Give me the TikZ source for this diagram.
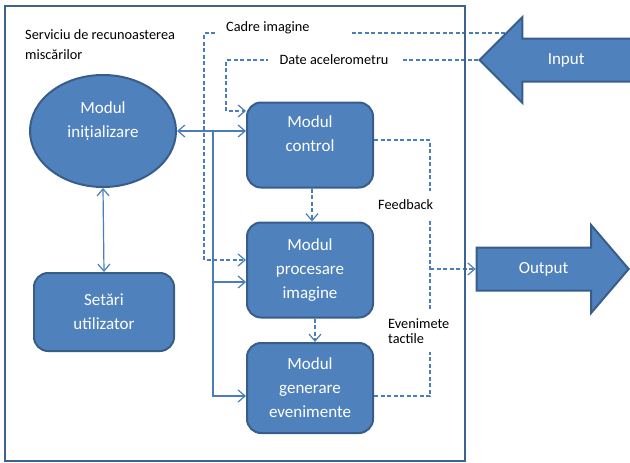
\documentclass[tikz,border=0pt]{standalone}
\usepackage{fontspec}
\setmainfont{Carlito}
\usepackage{tikz}
\usetikzlibrary{shapes,arrows.meta,positioning}
\definecolor{boxblue}{HTML}{4F81BD}
\definecolor{boxedge}{HTML}{385D8A}
\definecolor{linkblue}{HTML}{4A7EBB}
\definecolor{frameblue}{HTML}{3D6391}
\pgfdeclarelayer{background}
\pgfsetlayers{background,main}
\tikzset{
  every node/.style={
    font=\fontsize{14.3}{20}\selectfont
  },
  modul/.style={
    shape=rectangle,
    rounded corners=14pt,
    draw=boxedge,
    line width=2pt,
    fill=boxblue,
    text=white,
    font=\fontsize{17}{24}\selectfont,
    align=center,
    minimum width=126pt,
    minimum height=85pt
  },
  initial/.style={
    shape=ellipse,
    draw=boxedge,
    line width=2pt,
    fill=boxblue,
    text=white,
    font=\fontsize{17}{24}\selectfont,
    align=center,
    inner sep=0pt,
    minimum width=146pt,
    minimum height=112pt
  },
  bigarrow/.style={
    shape=single arrow,
    draw=boxedge,
    line width=2pt,
    fill=boxblue,
    text=white,
    font=\fontsize{17}{24}\selectfont,
    text height=12pt,
    text depth=4pt,
    inner ysep=12.5pt,
    minimum height=152pt
  },
  tag/.style={
    fill=white,
    text=black
  },
  frame/.style={
    draw=frameblue,
    line width=2.5pt
  },
  link/.style={
    draw=linkblue,
    line width=1.2pt
  },
  flow/.style={
    link,
    -{Straight Barb[length=7pt,width=12pt]}
  },
  both flow/.style={
    link,
    {Straight Barb[length=7pt,width=12pt]}-{Straight Barb[length=7pt,width=12pt]}
  },
  dline/.style={
    link,
    dash pattern=on 4pt off 2.5pt
  },
  dflow/.style={
    flow,
    dash pattern=on 4pt off 2.5pt
  }
}

\begin{document}
\begin{tikzpicture}[x=1pt,y=-1pt]
  \useasboundingbox (0,0) rectangle (630,463);
  \draw[frame] (5,6) rectangle (465,461);

  \node[anchor=west, align=left, inner sep=0pt] (title) at (25,45)
    {Serviciu de recunoasterea\\miscărilor};

  % modules
  \node[initial, text depth=22pt] (init) at (103,131) {Modul\\inițializare};
  \node[modul, minimum width=140pt, minimum height=78pt] (set) at (104,312)
    {Setări\\utilizator};
  \node[modul, text depth=22pt] (ctrl) at (310,145) {Modul\\control};
  \node[modul, minimum height=95pt] (proc) at (310,270) {Modul\\procesare\\imagine};
  \node[modul, minimum height=90pt] (gen) at (310,388) {Modul\\generare\\evenimente};

  % input / output
  \node[bigarrow, shape border rotate=180, single arrow head extend=21.5pt,
    single arrow tip angle=90, anchor=tip] (inp) at (478,60) {Input};
  \node[bigarrow, single arrow head extend=22.5pt,
    single arrow tip angle=99, anchor=tip] (out) at (630,269) {Output};

  % labels on the dashed lines
  \node[anchor=west, inner xsep=11pt] (cadre) at (215,28) {Cadre imagine};
  \node[tag, inner xsep=12pt] (date) at (334,60) {Date acelerometru};
  \node[tag, anchor=west, inner xsep=2pt, inner ysep=9pt] (fback) at (376,205)
    {Feedback};
  \node[tag, anchor=west, inner xsep=2pt, inner ysep=9pt, align=left,
    font=\fontsize{14.3}{15}\selectfont] (tactile) at (386,331) {Evenimete\\tactile};

  \coordinate (cadre in) at (505,33);
  \coordinate (cadre gap) at (351,33);
  \coordinate (bus) at (213,131);
  \coordinate (merge) at (430,269);

  \begin{pgfonlayer}{background}
    \draw[both flow] (init.east) -- (init.east -| ctrl.west);
    \draw[both flow] (init.south) -- (set.north);
    \draw[flow] (bus) |- ([yshift=-12pt]proc.west);
    \draw[flow] (bus) |- ([yshift=-8pt]gen.west);

    \draw[dline] (cadre in) -- (cadre gap);
    \draw[dflow] (cadre.west |- cadre gap) -- ++(-11,0) |- ([yshift=10pt]proc.west);
    \draw[dflow] (inp.tip) -- (226,60) |- ([yshift=34pt]ctrl.west);
    \draw[dflow] ([xshift=2pt]ctrl.south) -- ([xshift=2pt]proc.north);
    \draw[dflow] ([xshift=5pt]proc.south) -- ([xshift=5pt]gen.north);

    \draw[dline] ([yshift=5pt]ctrl.east) -| (merge) |- ([yshift=-8pt]gen.east);
    \draw[dflow] (merge) -- (out.tail);
  \end{pgfonlayer}
\end{tikzpicture}
\end{document}
